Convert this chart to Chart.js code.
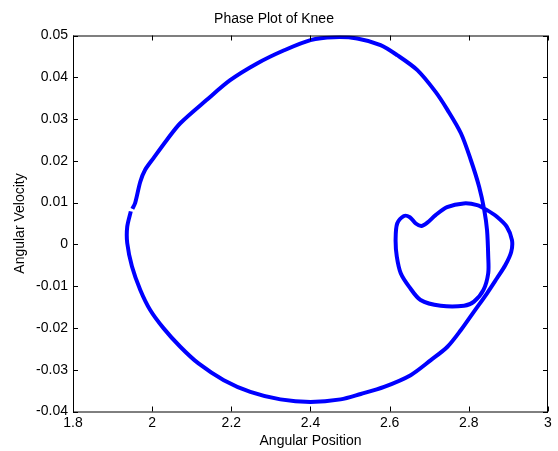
<!DOCTYPE html>
<html>
<head>
<meta charset="utf-8">
<script src="https://cdn.jsdelivr.net/npm/chart.js@4/dist/chart.umd.min.js"></script>
<style>
  html, body { margin: 0; padding: 0; background: #fff; }
  canvas { display: block; }
</style>
</head>
<body>
<canvas id="phase" width="558" height="451"></canvas>
<script>
// knee trajectory (angular position vs angular velocity)
const position = [
  1.950, 1.957, 1.970, 1.982, 2.003, 2.037, 2.071, 2.138, 2.197, 2.265, 2.332,
  2.400, 2.459, 2.518, 2.577, 2.619, 2.670, 2.716, 2.746, 2.780, 2.805,
  2.826, 2.839, 2.846, 2.849, 2.849, 2.837, 2.813, 2.788, 2.729, 2.678,
  2.649, 2.628, 2.618, 2.615, 2.619, 2.636, 2.651, 2.666, 2.680, 2.695,
  2.716, 2.745, 2.787, 2.821, 2.846, 2.871, 2.896, 2.909, 2.907, 2.892,
  2.871, 2.846, 2.813, 2.780, 2.746, 2.704, 2.653, 2.586, 2.527, 2.476,
  2.400, 2.324, 2.248, 2.181, 2.117, 2.071, 2.029, 1.995, 1.970, 1.949,
  1.937, 1.937, 1.946
];
const velocity = [
  0.0085, 0.0099, 0.0150, 0.0178, 0.0206, 0.0250, 0.0290, 0.0346, 0.0393, 0.0433, 0.0464,
  0.0489, 0.0496, 0.0493, 0.0477, 0.0453, 0.0417, 0.0365, 0.0322, 0.0266, 0.0202,
  0.0138, 0.0082, 0.0034, -0.0029, -0.0069, -0.0109, -0.0137, -0.0147, -0.0147, -0.0133,
  -0.0101, -0.0069, -0.0029, 0.0011, 0.0050, 0.0068, 0.0065, 0.0050, 0.0044, 0.0052,
  0.0070, 0.0089, 0.0098, 0.0094, 0.0082, 0.0066, 0.0042, 0.0010, -0.0018, -0.0050,
  -0.0081, -0.0117, -0.0161, -0.0205, -0.0245, -0.0277, -0.0313, -0.0341, -0.0358, -0.0371,
  -0.0377, -0.0371, -0.0353, -0.0325, -0.0285, -0.0245, -0.0201, -0.0157, -0.0109, -0.0053,
  0.0003, 0.0042, 0.0079
];
const xTicks = [1.8, 2, 2.2, 2.4, 2.6, 2.8, 3];
const yTicks = [-0.04, -0.03, -0.02, -0.01, 0, 0.01, 0.02, 0.03, 0.04, 0.05];

const font = {family: 'Liberation Sans, Arial, sans-serif', size: 14};

// matlab style box with inward ticks
const boxPlugin = {
  id: 'box',
  afterDraw(chart) {
    const {ctx, chartArea: a, scales} = chart;
    const len = 5;
    ctx.save();
    ctx.strokeStyle = '#000';
    ctx.lineWidth = 1;
    ctx.strokeRect(a.left + 0.5, a.top + 0.5, a.right - a.left - 1, a.bottom - a.top);
    ctx.beginPath();
    scales.x.ticks.forEach(t => {
      const px = Math.round(scales.x.getPixelForValue(t.value)) + 0.5;
      ctx.moveTo(px, a.bottom); ctx.lineTo(px, a.bottom - len);
      ctx.moveTo(px, a.top); ctx.lineTo(px, a.top + len);
    });
    scales.y.ticks.forEach(t => {
      const py = Math.round(scales.y.getPixelForValue(t.value)) + 0.5;
      ctx.moveTo(a.left, py); ctx.lineTo(a.left + len, py);
      ctx.moveTo(a.right, py); ctx.lineTo(a.right - len, py);
    });
    ctx.stroke();
    ctx.restore();
  }
};

new Chart(document.getElementById('phase').getContext('2d'), {
  type: 'scatter',
  data: {
    datasets: [{
      data: position.map((x, i) => ({x: x, y: velocity[i]})),
      showLine: true,
      borderColor: '#0000ff',
      borderWidth: 4,
      borderJoinStyle: 'round',
      pointRadius: 0,
      tension: 0.3
    }]
  },
  options: {
    responsive: false,
    animation: false,
    layout: {padding: {left: 0, right: 10, top: 0, bottom: 0}},
    plugins: {
      legend: {display: false},
      tooltip: {enabled: false},
      title: {
        display: true,
        text: 'Phase Plot of Knee',
        color: '#000',
        font: {...font, weight: 'normal'},
        padding: {top: 11, bottom: 7.7}
      }
    },
    scales: {
      x: {
        type: 'linear',
        min: 1.8,
        max: 3,
        afterBuildTicks: s => { s.ticks = xTicks.map(v => ({value: v})); },
        afterFit: s => { s.height = 39.5; },
        grid: {display: false, drawTicks: false},
        border: {display: false},
        ticks: {color: '#000', font: font, padding: 3, callback: v => String(v)},
        title: {display: true, text: 'Angular Position', color: '#000', font: font, padding: {top: 2, bottom: 1}}
      },
      y: {
        type: 'linear',
        min: -0.04,
        max: 0.05,
        afterBuildTicks: s => { s.ticks = yTicks.map(v => ({value: v})); },
        afterFit: s => { s.width = 73; },
        grid: {display: false, drawTicks: false},
        border: {display: false},
        ticks: {color: '#000', font: font, padding: 5, callback: v => String(v)},
        title: {display: true, text: 'Angular Velocity', color: '#000', font: font, padding: {top: 11.6, bottom: 2}}
      }
    }
  },
  plugins: [boxPlugin]
});
</script>
</body>
</html>
